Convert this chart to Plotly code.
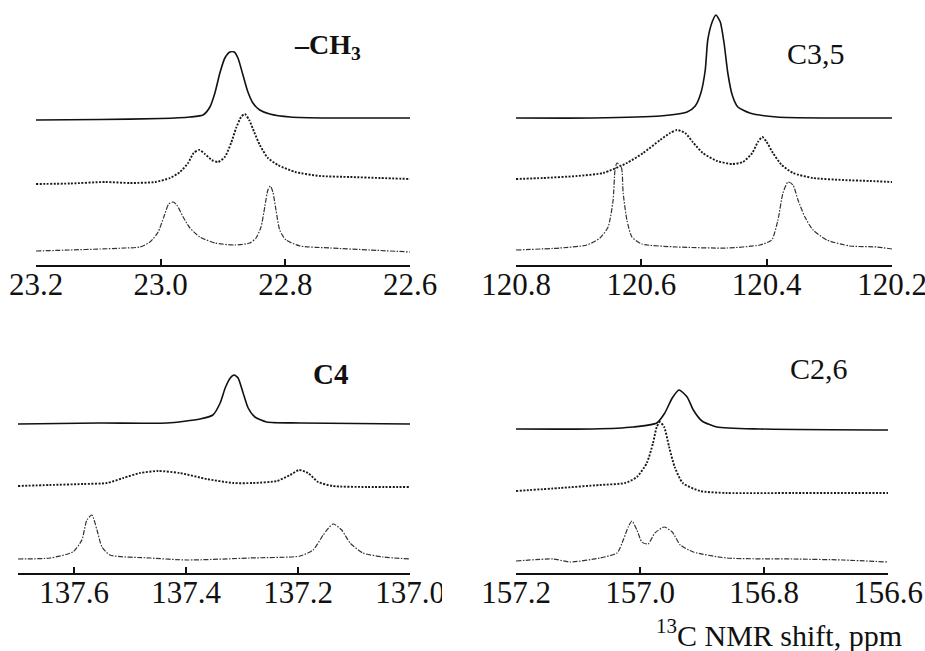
import plotly.graph_objects as go

# ---------------- data (ppm, relative intensity incl. stacking) ----------------
# Panel 1: -CH3
ch3_top_x = [23.2, 23.097, 23.0, 22.953, 22.932, 22.921, 22.913, 22.905, 22.897, 22.889, 22.882, 22.876,
             22.868, 22.860, 22.852, 22.841, 22.825, 22.792, 22.728, 22.6]
ch3_top_y = [145, 145.5, 146.5, 148, 150, 158, 172, 192, 207, 213, 213, 207, 190, 173, 162, 155, 151, 148, 147, 147]
ch3_mid_x = [23.2, 23.145, 23.089, 23.049, 23.009, 22.985, 22.969, 22.956, 22.947, 22.938, 22.929, 22.918,
             22.908, 22.897, 22.887, 22.879, 22.871, 22.865, 22.858, 22.850, 22.841, 22.828, 22.812, 22.784,
             22.744, 22.696, 22.648, 22.6]
ch3_mid_y = [81, 81.5, 83, 82, 83, 87, 93, 102, 112, 115, 111, 105, 103, 108, 122, 137, 148, 151, 145, 133,
             120, 107, 100, 93, 89, 88, 87, 86]
ch3_bot_x = [23.2, 23.145, 23.097, 23.057, 23.033, 23.017, 23.004, 22.995, 22.987, 22.980, 22.974, 22.964,
             22.953, 22.937, 22.913, 22.881, 22.857, 22.847, 22.839, 22.833, 22.828, 22.824, 22.820, 22.815,
             22.809, 22.799, 22.776, 22.728, 22.664, 22.6]
ch3_bot_y = [14, 15, 16, 17, 18, 23, 33, 48, 61, 63, 60, 48, 37, 28, 22, 20, 22, 27, 38, 58, 75, 79, 73, 55,
             35, 25, 19, 17, 15, 13]

# Panel 2: C3,5
c35_top_x = [120.8, 120.677, 120.570, 120.527, 120.514, 120.505, 120.498, 120.494, 120.487, 120.481, 120.474,
             120.468, 120.462, 120.455, 120.446, 120.427, 120.384, 120.304, 120.2]
c35_top_y = [147, 147, 149, 153, 159, 172, 195, 225, 243, 250, 243, 222, 192, 170, 158, 152, 148, 147, 147]
c35_mid_x = [120.8, 120.757, 120.703, 120.661, 120.623, 120.597, 120.570, 120.554, 120.543, 120.530, 120.518,
             120.502, 120.479, 120.455, 120.438, 120.423, 120.414, 120.407, 120.400, 120.390, 120.376, 120.358,
             120.326, 120.278, 120.235, 120.2]
c35_mid_y = [86, 87, 89, 92, 102, 112, 125, 132, 135, 132, 123, 112, 104, 101, 103, 112, 123, 128, 123, 112,
             100, 92, 87, 85, 84, 83]
c35_bot_x = [120.8, 120.730, 120.687, 120.666, 120.653, 120.645, 120.642, 120.639, 120.632, 120.629, 120.623,
             120.615, 120.599, 120.543, 120.463, 120.411, 120.392, 120.382, 120.374, 120.366, 120.358, 120.350,
             120.339, 120.326, 120.304, 120.267, 120.224, 120.2]
c35_bot_y = [15, 17, 20, 27, 38, 65, 95, 102, 98, 72, 45, 28, 21, 18, 17, 20, 25, 45, 72, 83, 80, 65, 48, 35,
             25, 19, 18, 16]

# Panel 3: C4
c4_top_x = [137.7, 137.554, 137.434, 137.375, 137.352, 137.339, 137.330, 137.321, 137.314, 137.307, 137.298,
            137.289, 137.277, 137.256, 137.196, 137.0]
c4_top_y = [149, 150, 150, 154, 158, 170, 185, 195, 198, 195, 180, 165, 156, 151, 150, 149]
c4_mid_x = [137.7, 137.643, 137.584, 137.541, 137.512, 137.482, 137.45, 137.411, 137.363, 137.316, 137.280,
            137.238, 137.214, 137.198, 137.182, 137.164, 137.138, 137.077, 137.0]
c4_mid_y = [87, 88, 89, 90, 95, 100, 102, 100, 94, 90, 90, 92, 98, 103, 100, 91, 87, 86, 86]
c4_bot_x = [137.7, 137.643, 137.602, 137.586, 137.577, 137.568, 137.559, 137.550, 137.536, 137.464, 137.398,
            137.286, 137.196, 137.173, 137.155, 137.1375, 137.122, 137.107, 137.084, 137.048, 137.0]
c4_bot_y = [14, 15, 21, 33, 53, 58, 43, 26, 18, 15, 13, 15, 17, 23, 38, 49, 43, 30, 20, 16, 14]

# Panel 4: C2,6
c26_top_x = [157.2, 157.076, 157.011, 156.973, 156.960, 156.948, 156.937, 156.924, 156.914, 156.900, 156.876,
             156.806, 156.6]
c26_top_y = [144, 144, 146, 150, 160, 175, 183, 176, 163, 152, 146, 144, 143]
c26_mid_x = [157.2, 157.129, 157.065, 157.024, 157.005, 156.989, 156.979, 156.973, 156.968, 156.961, 156.953,
             156.944, 156.931, 156.903, 156.860, 156.753, 156.698, 156.6]
c26_mid_y = [82, 85, 88, 90, 96, 110, 130, 146, 151, 146, 126, 106, 90, 82, 80, 80, 80, 80]
c26_bot_x = [157.2, 157.140, 157.113, 157.065, 157.037, 157.027, 157.019, 157.013, 157.005, 156.997, 156.987,
             156.976, 156.961, 156.948, 156.935, 156.914, 156.860, 156.753, 156.673, 156.6]
c26_bot_y = [12, 14, 11, 15, 20, 33, 46, 52, 43, 31, 29, 40, 46, 41, 28, 21, 15, 14, 13, 11]

# axes
ch3_ticks = [23.2, 23.0, 22.8, 22.6]
c35_ticks = [120.8, 120.6, 120.4, 120.2]
c4_ticks = [137.6, 137.4, 137.2, 137.0]
c26_ticks = [157.2, 157.0, 156.8, 156.6]
ch3_range = [23.2, 22.6]
c35_range = [120.8, 120.2]
c4_range = [137.7, 137.0]
c26_range = [157.2, 156.6]

panel_labels = ["–CH<sub>3</sub>", "C3,5", "C4", "C2,6"]
axis_title = "<sup>13</sup>C NMR shift, ppm"

# ---------------- figure ----------------
W, H = 925, 651
FONT = "Liberation Serif"

fig = go.Figure()

styles = [
    dict(color="#111111", width=1.6, dash="solid"),
    dict(color="#1a1a1a", width=1.9, dash="2px,1.5px"),
    dict(color="#333333", width=1.2, dash="5px,1.5px,1.5px,1.5px"),
]

panels = [
    ("x", "y", [(ch3_top_x, ch3_top_y), (ch3_mid_x, ch3_mid_y), (ch3_bot_x, ch3_bot_y)]),
    ("x2", "y2", [(c35_top_x, c35_top_y), (c35_mid_x, c35_mid_y), (c35_bot_x, c35_bot_y)]),
    ("x3", "y3", [(c4_top_x, c4_top_y), (c4_mid_x, c4_mid_y), (c4_bot_x, c4_bot_y)]),
    ("x4", "y4", [(c26_top_x, c26_top_y), (c26_mid_x, c26_mid_y), (c26_bot_x, c26_bot_y)]),
]
for xa, ya, series in panels:
    for (xs, ys), st in zip(series, styles):
        fig.add_trace(go.Scatter(x=xs, y=ys, xaxis=xa, yaxis=ya, mode="lines",
                                 line=dict(color=st["color"], width=st["width"], dash=st["dash"],
                                           shape="spline", smoothing=0.6),
                                 showlegend=False, hoverinfo="skip"))

def px(v):
    return v / W

def py(v):
    return 1 - v / H

top_dom = [py(265), py(10)]
bot_dom = [py(573), py(340)]

def xaxis(dom, rng, ticks, anchor):
    return dict(domain=dom, range=rng, anchor=anchor, tickmode="array", tickvals=ticks,
                ticktext=[f"{t:.1f}" for t in ticks], ticks="inside", ticklen=6, tickwidth=1.5,
                tickcolor="#111", showline=True, linecolor="#111", linewidth=1.6, showgrid=False,
                zeroline=False, automargin=False, fixedrange=True, ticklabeloverflow="allow",
                ticklabelstandoff=-9,
                tickfont=dict(family=FONT, size=31, color="#111"))

def yaxis(dom, top, anchor):
    return dict(domain=dom, range=[0, top], anchor=anchor, visible=False, showgrid=False, zeroline=False,
                automargin=False, fixedrange=True)

fig.update_layout(
    width=W, height=H, margin=dict(l=0, r=0, t=0, b=0, autoexpand=False),
    paper_bgcolor="white", plot_bgcolor="white",
    xaxis=xaxis([px(36), px(410)], ch3_range, ch3_ticks, "y"),
    yaxis=yaxis(top_dom, 255, "x"),
    xaxis2=xaxis([px(516), px(892)], c35_range, c35_ticks, "y2"),
    yaxis2=yaxis(top_dom, 255, "x2"),
    xaxis3=xaxis([px(18), px(410)], c4_range, c4_ticks, "y3"),
    yaxis3=yaxis(bot_dom, 233, "x3"),
    xaxis4=xaxis([px(516), px(888)], c26_range, c26_ticks, "y4"),
    yaxis4=yaxis(bot_dom, 233, "x4"),
)

ann = [
    (panel_labels[0], 292, 47, True, "left", 28),
    (panel_labels[1], 816, 54, False, "center", 30),
    (panel_labels[2], 330, 374, True, "center", 29),
    (panel_labels[3], 819, 368, False, "center", 30),
    (axis_title, 779, 633, False, "center", 30),
]
for text, x, y, bold, xanchor, size in ann:
    fig.add_annotation(xref="paper", yref="paper", x=px(x), y=py(y), text=f"<b>{text}</b>" if bold else text,
                       showarrow=False, xanchor=xanchor, yanchor="middle",
                       font=dict(family=FONT, size=size, color="#111"))

# crop of the right-hand tick label as in the source image
fig.add_shape(type="rect", xref="paper", yref="paper", x0=px(442), x1=px(470), y0=py(615), y1=py(578),
              fillcolor="white", line=dict(width=0), layer="above")

fig.write_html("out.html", config={"displayModeBar": False},
               post_script="document.body.style.margin='0';document.body.style.overflow='hidden';")
